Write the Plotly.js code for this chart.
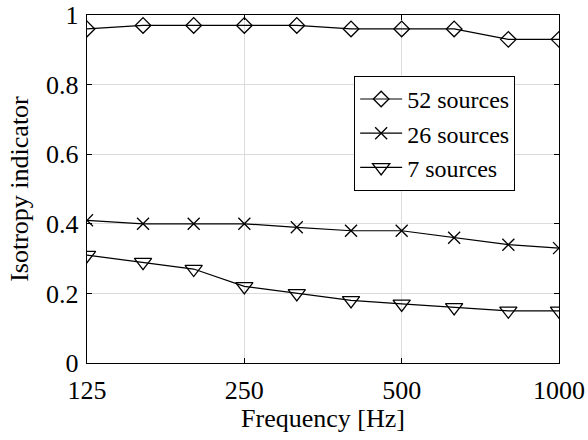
<!DOCTYPE html>
<html><head><meta charset="utf-8">
<script src="https://cdn.plot.ly/plotly-3.0.1.min.js"></script>
<style>body{margin:0;background:#fff}#c{width:588px;height:440px}
#d{position:absolute;left:0;top:428px;font:11px monospace;width:10px;height:10px}
#w{position:absolute;left:0;top:425px}</style>
</head><body><div id="c"></div><div id="d"></div>
<svg id="w" width="12" height="14"><text x="0" y="12" style="font-family:'Liberation Serif';font-size:24px">&#160;</text></svg>
<script>
const freqs = [125, 160, 200, 250, 315, 400, 500, 630, 800, 1000];
const s52 = [0.96, 0.97, 0.97, 0.97, 0.97, 0.96, 0.96, 0.96, 0.93, 0.93];
const s26 = [0.41, 0.40, 0.40, 0.40, 0.39, 0.38, 0.38, 0.36, 0.34, 0.33];
const s7  = [0.31, 0.29, 0.27, 0.22, 0.20, 0.18, 0.17, 0.16, 0.15, 0.15];
const names = ['52 sources', '26 sources', '7 sources'];
const xTicks = [125, 250, 500, 1000];
const yTicks = [0, 0.2, 0.4, 0.6, 0.8, 1];

const F = 'Liberation Serif';
const mk = (y, name, sym, size) => ({
  x: freqs, y: y, name: name, type: 'scatter', mode: 'lines+markers',
  line: {color: '#000', width: 1.2},
  marker: {symbol: sym, size: size, color: '#000', line: {color: '#000', width: 1.3}}
});
const data = [
  mk(s52, names[0], 'diamond-open', 12),
  mk(s26, names[1], 'x-thin-open', 12),
  mk(s7, names[2], 'triangle-down-open', 15)
];
const axBase = {
  showline: true, linecolor: '#000', linewidth: 1.3, mirror: 'ticks',
  ticks: 'inside', ticklen: 5, tickcolor: '#000', tickwidth: 1,
  showgrid: true, gridcolor: '#dcdcdc', gridwidth: 1, zeroline: false,
  tickfont: {family: F, size: 26, color: '#000'}
};
const layout = {
  width: 588, height: 440,
  margin: {l: 87, r: 29, t: 15, b: 77},
  paper_bgcolor: '#fff', plot_bgcolor: '#fff',
  font: {family: F, color: '#000'},
  showlegend: true,
  legend: {x: 0.566, y: 0.825, xanchor: 'left', yanchor: 'top',
    bgcolor: '#fff', bordercolor: '#000', borderwidth: 1, itemwidth: 42,
    font: {family: F, size: 24, color: '#000'}, tracegroupgap: 0},
  xaxis: Object.assign({}, axBase, {
    type: 'log', range: [Math.log10(125), Math.log10(1000)],
    tickvals: xTicks, ticktext: xTicks.map(String), ticklabelstandoff: 3,
    title: {text: 'Frequency [Hz]', font: {family: F, size: 26, color: '#000'}, standoff: 4}
  }),
  yaxis: Object.assign({}, axBase, {
    range: [0, 1], tickvals: yTicks, ticktext: yTicks.map(String), ticklabelstandoff: 2,
    title: {text: 'Isotropy indicator', font: {family: F, size: 26, color: '#000'}, standoff: 10}
  })
};
Plotly.newPlot('c', data, layout, {displayModeBar: false, staticPlot: true}).then(() => {
  const t = document.querySelector('#c .xtick text');
  const fam = t ? getComputedStyle(t).fontFamily : '';
  document.getElementById('d').setAttribute('data-f', fam);
  document.getElementById('d').textContent = '\u00a0';
});
</script></body></html>
